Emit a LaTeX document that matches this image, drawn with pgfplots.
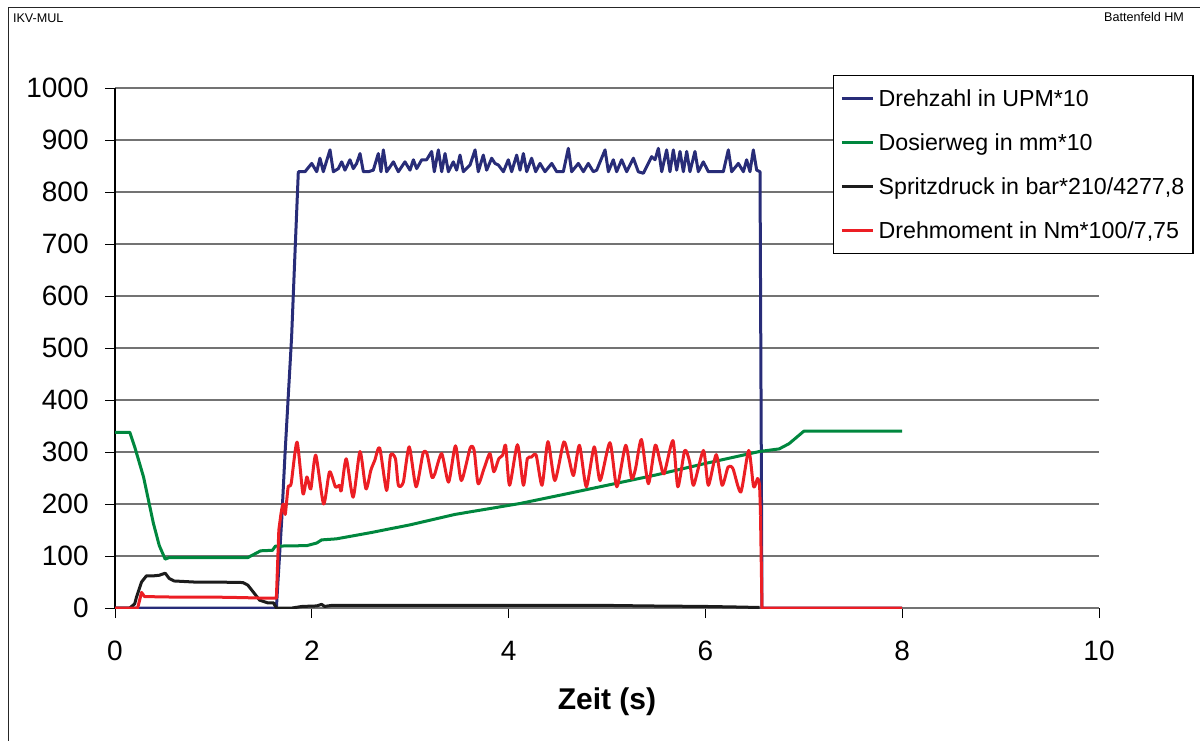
\documentclass[border=0pt]{standalone}
\usepackage{fontspec}
\setmainfont{Liberation Sans}
\usepackage{pgfplots}
\pgfplotsset{compat=1.18}
\definecolor{cblue}{RGB}{40,44,120}
\definecolor{cgreen}{RGB}{0,135,62}
\definecolor{cblack}{RGB}{28,28,28}
\definecolor{cred}{RGB}{236,30,36}
\definecolor{cgrid}{RGB}{115,115,115}
\begin{document}
\begin{tikzpicture}
\useasboundingbox (0,0) rectangle (600pt,-370pt);
\draw[line width=0.6pt, black!85] (4.15pt,-372pt) -- (4.15pt,-3.65pt) -- (602pt,-3.65pt);
\node[anchor=base west, inner sep=0pt, font=\fontsize{6.3}{7}\selectfont] at (6.3pt,-11.1pt) {IKV-MUL};
\node[anchor=base east, inner sep=0pt, font=\fontsize{6.3}{7}\selectfont] at (592.2pt,-10.7pt) {Battenfeld HM};
\begin{axis}[
  at={(57.5pt,-304pt)}, anchor=south west,
  scale only axis, width=492pt, height=260pt,
  xmin=0, xmax=10, ymin=0, ymax=1000,
  xtick={0,2,...,10}, ytick={0,100,...,1000},
  axis x line=bottom, axis y line=left,
  axis line style={-},
  x axis line style={cgrid, line width=0.6pt},
  y axis line style={black, line width=0.6pt},
  ymajorgrids, major grid style={cgrid, line width=0.6pt},
  tick align=outside, major tick length=5pt,
  tick style={black, line width=0.5pt},
  tick label style={font=\fontsize{14}{16}\selectfont},
  yticklabel style={anchor=east, inner sep=0pt, xshift=-8pt},
  xticklabel style={anchor=north, inner sep=0pt, yshift=-11.5pt},
  /pgf/number format/assume math mode=true,
  /pgf/number format/set thousands separator={},
  xlabel={Zeit (s)},
  xlabel style={font=\fontsize{15}{18}\selectfont\bfseries, at={(axis description cs:0.5,-0.196)}, anchor=base, inner sep=0pt},
  every axis plot/.append style={line width=1.5pt, line join=round},
  legend style={at={(0.7297,1.025)}, anchor=north west, draw=black, line width=0.6pt, fill=white,
    font=\fontsize{11.6}{14}\selectfont, inner xsep=3.35pt, inner ysep=3.5pt, row sep=6pt, column sep=0.85pt,
    nodes={inner xsep=1pt, inner ysep=2pt, text height=10pt, text depth=2pt}},
  legend cell align=left,
  legend image code/.code={\draw[#1] (0pt,0pt) -- (15.8pt,0pt);},
]
\addplot[cblue] coordinates {
(0,0)(1.64,0)(1.694,169)(1.728,297)(1.795,522)(1.829,682)(1.863,839)
(1.931,839)(1.999,855)(2.050,839)(2.083,865)(2.117,839)(2.185,881)(2.219,839)(2.270,845)(2.304,858)(2.337,842)(2.388,862)(2.422,845)(2.456,855)(2.490,874)(2.524,839)(2.575,839)(2.625,842)(2.676,874)(2.703,839)(2.727,881)(2.761,839)(2.829,858)(2.879,839)(2.947,858)(2.998,842)(3.032,862)(3.066,845)(3.117,862)(3.167,862)(3.218,878)(3.245,839)(3.286,881)(3.320,839)(3.354,874)(3.388,839)(3.438,858)(3.472,842)(3.506,871)(3.540,839)(3.608,852)(3.659,881)(3.692,839)(3.743,871)(3.777,842)(3.828,865)(3.862,855)(3.896,852)(3.947,839)(3.997,862)(4.031,839)(4.082,871)(4.116,842)(4.150,874)(4.184,839)(4.234,865)(4.275,839)(4.319,855)(4.370,839)(4.438,855)(4.489,839)(4.556,839)(4.607,884)(4.641,839)(4.709,855)(4.760,839)(4.810,855)(4.861,839)(4.895,842)(4.980,881)(5.014,839)(5.064,862)(5.098,839)(5.149,862)(5.200,839)(5.268,865)(5.318,839)(5.369,836)(5.420,855)(5.454,868)(5.488,862)(5.522,884)(5.556,839)(5.606,881)(5.640,839)(5.674,881)(5.708,842)(5.742,878)(5.776,839)(5.810,878)(5.843,839)(5.894,878)(5.928,839)(5.979,858)(6.030,839)(6.081,839)(6.131,839)(6.182,839)(6.233,881)(6.267,839)(6.335,855)(6.386,839)(6.419,862)(6.453,839)(6.487,881)(6.521,842)(6.555,839)(6.565,420)(6.575,0)(8,0)
};
\addlegendentry{Drehzahl in UPM*10}
\addplot[cgreen] coordinates {
(0,338)(0.15,338)(0.2,310)(0.29,252)(0.39,163)(0.45,120)(0.51,94)(0.55,97)(1.35,97)(1.42,104)(1.48,110)(1.6,111)(1.63,119)(1.95,120)(2.05,125)(2.1,131)(2.25,133)(2.6,145)(3.0,160)(3.455,180)(4.116,201)(4.6,220)(5.0,236)(5.5,256)(6.0,278)(6.55,301)(6.75,306)(6.85,316)(7.0,340)(8,340)
};
\addlegendentry{Dosierweg in mm*10}
\addplot[cblack] coordinates {
(0,0)(0.15,0)(0.2,8)(0.22,22)(0.27,50)(0.32,62)(0.4,62)(0.45,63)(0.51,67)(0.55,57)(0.6,52)(0.8,50)(1.0,50)(1.3,49)(1.35,44)(1.4,32)(1.47,15)(1.55,10)(1.61,10)(1.64,0)(1.8,0)(1.9,3)(2.05,4)(2.1,7)(2.13,3)(2.2,5)(3,5)(4,5)(5,5)(5.4,4)(6,3)(6.3,2)(6.55,1)
};
\addlegendentry{Spritzdruck in bar*210/4277,8}
\addplot[cred] coordinates {
(0,0)(0.23,0)(0.27,30)(0.30,22)(0.6,21)(1.0,21)(1.3,20)(1.5,19)(1.64,19)(1.665,150)
};
\addlegendentry{Drehmoment in Nm*100/7,75}
\addplot[cred, smooth, tension=0.4, forget plot] coordinates {
(1.665,150)(1.69,185)(1.71,200)(1.73,180)(1.76,233)(1.79,239)(1.85,319)(1.91,220)(1.95,252)(1.99,229)(2.04,294)(2.12,200)(2.18,262)(2.24,233)(2.28,236)(2.30,226)(2.35,287)(2.42,213)(2.49,301)(2.55,229)(2.60,265)(2.64,284)(2.69,308)(2.76,226)(2.80,294)(2.85,287)(2.88,236)(2.93,242)(2.99,310)(3.06,233)(3.13,297)(3.17,297)(3.22,252)(3.25,258)(3.32,297)(3.39,242)(3.46,312)(3.52,245)(3.61,308)(3.65,303)(3.69,239)(3.75,268)(3.81,297)(3.85,262)(3.90,287)(3.94,294)(3.97,313)(4.01,236)(4.09,314)(4.15,236)(4.19,287)(4.23,290)(4.28,294)(4.34,236)(4.40,320)(4.47,245)(4.56,319)(4.61,290)(4.66,255)(4.72,313)(4.79,233)(4.87,310)(4.93,245)(5.03,318)(5.10,233)(5.19,313)(5.25,249)(5.29,268)(5.35,324)(5.42,239)(5.49,313)(5.54,281)(5.58,258)(5.67,322)(5.72,233)(5.79,303)(5.84,281)(5.88,236)(5.98,303)(6.03,236)(6.11,295)(6.17,236)(6.23,271)(6.28,268)(6.36,223)(6.44,303)(6.49,233)(6.53,249)(6.55,236)(6.56,178)
};
\addplot[cred, forget plot] coordinates {
(6.56,178)(6.575,0)(8,0)
};
\end{axis}
\end{tikzpicture}
\end{document}
